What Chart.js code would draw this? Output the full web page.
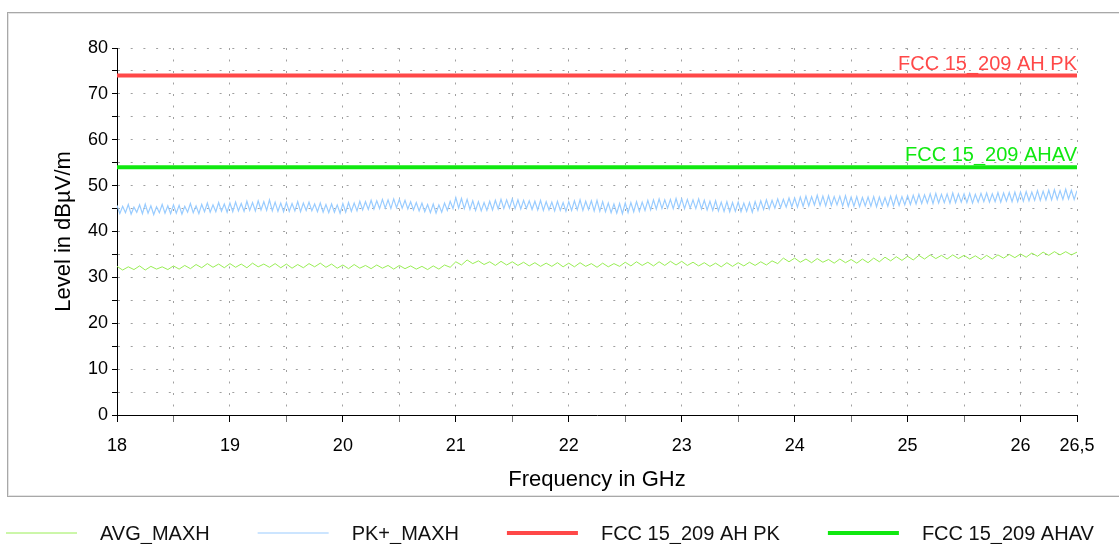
<!DOCTYPE html>
<html>
<head>
<meta charset="utf-8">
<script src="https://cdn.jsdelivr.net/npm/chart.js@4"></script>
<style>
  html, body { margin: 0; padding: 0; background: #fff; }
  canvas { display: block; }
</style>
</head>
<body>
<canvas id="myChart" width="1119" height="544"></canvas>
<script>
// sweep 18 .. 26.5 GHz, readings spread evenly over it
var freqStart = 18;
var freqStop = 26.5;

// AVG_MAXH trace, dBuV/m, every 50 MHz
var avgMaxh = [
    32.4, 31.6, 32.3, 31.7, 32.5, 31.6, 32.4, 31.8, 32.3, 31.7,
    32.5, 31.8, 32.6, 31.9, 32.8, 32.1, 33.0, 32.2, 32.9, 32.1,
    33.0, 32.2, 32.9, 32.1, 33.1, 32.3, 32.9, 32.2, 33.0, 32.1,
    32.9, 32.0, 32.8, 32.1, 33.0, 32.3, 33.1, 32.2, 32.9, 32.0,
    32.7, 31.9, 32.8, 32.0, 32.6, 31.9, 32.7, 32.0, 32.6, 31.8,
    32.6, 31.9, 32.5, 31.8, 32.4, 31.7, 32.5, 31.8, 32.7, 32.2,
    33.4, 32.7, 33.8, 33.0, 33.6, 32.8, 33.4, 32.6, 33.5, 32.7,
    33.4, 32.6, 33.3, 32.5, 33.2, 32.4, 33.1, 32.4, 33.2, 32.3,
    33.1, 32.3, 33.2, 32.4, 33.0, 32.2, 33.1, 32.3, 33.0, 32.4,
    33.3, 32.5, 33.4, 32.6, 33.3, 32.5, 33.4, 32.6, 33.5, 32.7,
    33.5, 32.6, 33.3, 32.5, 33.2, 32.4, 33.1, 32.3, 33.2, 32.4,
    33.2, 32.5, 33.3, 32.6, 33.4, 32.7, 33.6, 33.0, 34.2, 33.4,
    34.2, 33.3, 34.0, 33.2, 34.1, 33.3, 33.9, 33.1, 34.0, 33.2,
    33.9, 33.1, 34.0, 33.2, 34.2, 33.4, 34.4, 33.6, 34.5, 33.7,
    34.6, 33.8, 34.8, 34.0, 34.9, 34.1, 34.8, 34.0, 34.9, 34.1,
    34.8, 34.0, 34.7, 33.9, 34.8, 34.0, 34.9, 34.2, 35.0, 34.3,
    35.1, 34.4, 35.3, 34.6, 35.5, 34.8, 35.6, 34.9, 35.6, 34.9,
    35.5
];

// PK+_MAXH trace, dBuV/m, every 25 MHz
var pkMaxh = [
    45.7, 43.9, 45.5, 44.1, 45.9, 43.8, 45.3, 44.2, 45.8, 43.9, 46.0, 44.0, 45.6, 43.7, 45.4, 44.1, 45.9, 44.0, 45.6, 43.9,
    45.8, 44.0, 45.7, 43.8, 45.5, 44.2, 46.1, 44.1, 45.6, 43.9, 45.9, 44.3, 46.2, 44.2, 45.8, 44.3, 46.3, 44.4, 46.0, 44.2,
    46.2, 44.3, 46.4, 44.5, 46.1, 44.4, 46.6, 44.6, 46.3, 44.5, 46.7, 44.7, 46.5, 44.6, 46.9, 44.5, 46.4, 44.4, 46.2, 44.3,
    46.3, 44.4, 46.1, 44.5, 46.5, 44.3, 46.2, 44.6, 46.4, 44.5, 46.0, 44.3, 46.2, 44.2, 45.9, 44.1, 46.0, 44.2, 45.8, 44.0,
    46.1, 44.2, 46.3, 44.4, 46.2, 44.5, 46.6, 44.7, 46.5, 44.8, 46.8, 44.9, 46.7, 45.0, 47.0, 45.1, 46.9, 45.0, 47.1, 45.2,
    47.0, 45.1, 46.8, 44.9, 46.5, 44.7, 46.3, 44.5, 46.2, 44.3, 45.9, 44.1, 46.0, 44.0, 45.8, 44.2, 46.2, 44.6, 46.6, 45.0,
    47.4, 45.1, 47.2, 45.0, 47.0, 44.8, 46.7, 44.6, 46.5, 44.5, 46.3, 44.6, 46.6, 44.7, 46.8, 44.9, 47.0, 45.0, 46.9, 45.1,
    47.1, 45.0, 46.9, 44.9, 46.8, 45.0, 46.7, 44.8, 46.6, 44.7, 46.8, 44.6, 46.5, 44.7, 46.4, 44.5, 46.6, 44.6, 46.3, 44.4,
    46.5, 44.6, 46.7, 44.7, 46.9, 44.6, 46.6, 44.8, 46.7, 44.5, 46.8, 44.4, 46.5, 44.3, 46.2, 44.1, 46.0, 44.0, 46.1, 43.9,
    46.2, 44.1, 46.3, 44.3, 46.5, 44.4, 46.4, 44.6, 46.8, 44.7, 46.9, 44.9, 47.1, 45.0, 46.9, 45.1, 47.0, 45.0, 47.2, 45.1,
    47.1, 45.0, 47.0, 45.1, 46.9, 45.0, 47.1, 44.9, 46.8, 44.7, 46.6, 44.6, 46.7, 44.5, 46.4, 44.4, 46.5, 44.3, 46.3, 44.4,
    46.4, 44.3, 46.2, 44.4, 46.3, 44.2, 46.5, 44.6, 46.7, 44.8, 46.9, 44.9, 46.8, 45.1, 47.1, 45.2, 47.0, 45.3, 47.3, 45.4,
    47.3, 45.3, 47.5, 45.5, 47.7, 45.6, 47.6, 45.8, 47.9, 45.7, 47.7, 45.6, 47.8, 45.7, 47.6, 45.8, 47.7, 45.6, 47.8, 45.5,
    47.5, 45.5, 47.6, 45.4, 47.4, 45.6, 47.5, 45.5, 47.6, 45.4, 47.5, 45.6, 47.4, 45.5, 47.7, 45.6, 47.8, 45.7, 47.6, 45.8,
    47.8, 45.9, 47.9, 46.0, 48.1, 46.1, 48.0, 46.2, 48.2, 46.1, 48.3, 46.2, 48.1, 46.3, 48.2, 46.2, 48.4, 46.3, 48.2, 46.4,
    48.2, 46.3, 48.3, 46.2, 48.1, 46.4, 48.3, 46.5, 48.4, 46.4, 48.2, 46.5, 48.5, 46.4, 48.4, 46.6, 48.5, 46.5, 48.6, 46.5,
    48.6, 46.6, 48.7, 46.7, 48.6, 46.8, 48.9, 46.8, 48.8, 46.9, 49.0, 46.9, 49.1, 47.0, 48.9, 47.0, 49.2, 47.1, 49.0, 47.0,
    48.9
];

// limit lines
var limitPk = 74;
var limitAv = 54;

var seriesNames = ['AVG_MAXH', 'PK+_MAXH', 'FCC 15_209 AH PK', 'FCC 15_209 AHAV'];
var seriesColors = ['#99ee55', '#99ccff', '#ff4848', '#10e810'];

var FONT = '"Liberation Sans", Arial, sans-serif';

function toPoints(values){
    var step = (freqStop - freqStart) / (values.length - 1);
    var pts = [];
    for(var i = 0; i < values.length; i++){
        pts.push({x: freqStart + i * step, y: values[i]});
    }
    return pts;
}

function limitPoints(level){
    return [{x: freqStart, y: level}, {x: freqStop, y: level}];
}

// grey frame round the diagram
var framePlugin = {
    id: 'frame',
    beforeDraw: function(chart){
        var ctx = chart.ctx;
        ctx.save();
        ctx.fillStyle = '#fff';
        ctx.fillRect(0, 0, chart.width, chart.height);
        ctx.strokeStyle = '#a8a8a8';
        ctx.lineWidth = 1;
        ctx.strokeRect(7.5, 12.5, chart.width + 10, 484);
        ctx.strokeStyle = '#e4e4e4';
        ctx.strokeRect(8.5, 13.5, chart.width + 10, 482);
        ctx.restore();
    }
};

// names of the limit lines, written just above them at the right
var limitLabelPlugin = {
    id: 'limitLabels',
    afterDatasetsDraw: function(chart){
        var ctx = chart.ctx;
        var y = chart.scales.y;
        var right = chart.chartArea.right;
        ctx.save();
        ctx.font = '20px ' + FONT;
        ctx.textAlign = 'right';
        ctx.textBaseline = 'alphabetic';
        ctx.fillStyle = seriesColors[2];
        ctx.fillText(seriesNames[2], right, y.getPixelForValue(limitPk) - 6);
        ctx.fillStyle = seriesColors[3];
        ctx.fillText(seriesNames[3], right, y.getPixelForValue(limitAv) - 6);
        ctx.restore();
    }
};

// legend row under the frame
var legendPlugin = {
    id: 'bottomLegend',
    afterDraw: function(chart){
        var ctx = chart.ctx;
        var sets = chart.data.datasets;
        var x = 6;
        var y = 533;
        ctx.save();
        ctx.font = '20px ' + FONT;
        ctx.textBaseline = 'middle';
        ctx.textAlign = 'left';
        for(var i = 0; i < sets.length; i++){
            ctx.strokeStyle = sets[i].borderColor;
            ctx.lineWidth = sets[i].borderWidth;
            ctx.beginPath();
            ctx.moveTo(x, y);
            ctx.lineTo(x + 71, y);
            ctx.stroke();
            ctx.fillStyle = '#111';
            ctx.fillText(sets[i].label, x + 94, y + 1);
            x = x + 94 + ctx.measureText(sets[i].label).width + 48;
        }
        ctx.restore();
    }
};

var ctx = document.getElementById('myChart');
var myChart = new Chart(ctx, {
    type: 'line',
    data: {
        datasets: [
            { label: seriesNames[0], data: toPoints(avgMaxh), borderColor: seriesColors[0], borderWidth: 1 },
            { label: seriesNames[1], data: toPoints(pkMaxh), borderColor: seriesColors[1], borderWidth: 1.2 },
            { label: seriesNames[2], data: limitPoints(limitPk), borderColor: seriesColors[2], borderWidth: 4 },
            { label: seriesNames[3], data: limitPoints(limitAv), borderColor: seriesColors[3], borderWidth: 4 }
        ]
    },
    options: {
        responsive: false,
        animation: false,
        events: [],
        layout: { padding: { left: 0, top: 48, right: 42, bottom: 0 } },
        elements: {
            point: { radius: 0 },
            line: { tension: 0, fill: false }
        },
        plugins: {
            legend: { display: false },
            tooltip: { enabled: false }
        },
        scales: {
            x: {
                type: 'linear',
                min: 18,
                max: 26.5,
                afterFit: function(scale){ scale.height = 129; },
                border: { color: '#000', width: 1, dash: [2, 9.5] },
                grid: {
                    color: '#a0a0a0',
                    lineWidth: 1,
                    tickLength: 7,
                    tickColor: function(c){
                        var v = c.tick ? c.tick.value : 0;
                        return (Number.isInteger(v) || v === 26.5) ? '#000' : '#777';
                    }
                },
                ticks: {
                    stepSize: 0.5,
                    autoSkip: false,
                    maxRotation: 0,
                    padding: 13,
                    color: '#000',
                    font: { family: FONT, size: 18 },
                    callback: function(v){
                        if(v === 26.5) return '26,5';
                        return Number.isInteger(v) ? String(v) : '';
                    }
                },
                title: {
                    display: true,
                    text: 'Frequency in GHz',
                    color: '#000',
                    font: { family: FONT, size: 22 },
                    padding: { top: 0, bottom: 51 }
                }
            },
            y: {
                min: 0,
                max: 80,
                afterFit: function(scale){ scale.width = 117; },
                border: { color: '#000', width: 1, dash: [2, 10.7] },
                grid: {
                    color: '#a0a0a0',
                    lineWidth: 1,
                    tickLength: 5,
                    tickColor: '#000'
                },
                ticks: {
                    stepSize: 5,
                    autoSkip: false,
                    padding: 4,
                    color: '#000',
                    font: { family: FONT, size: 18 },
                    callback: function(v){
                        return v % 10 === 0 ? String(v) : '';
                    }
                },
                title: {
                    display: true,
                    text: 'Level in dBµV/m',
                    color: '#000',
                    font: { family: FONT, size: 22 },
                    padding: { top: 51, bottom: 0 }
                }
            }
        }
    },
    plugins: [framePlugin, limitLabelPlugin, legendPlugin]
});
</script>
</body>
</html>
